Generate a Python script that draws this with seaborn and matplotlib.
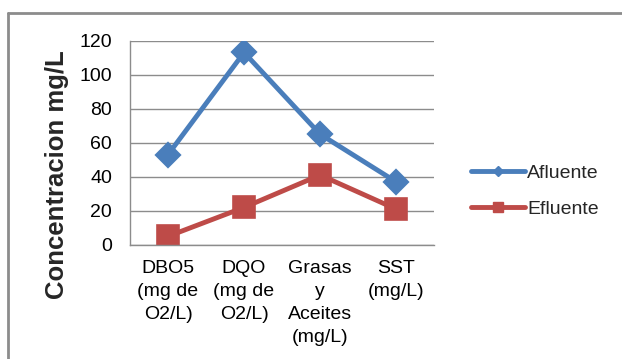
import pandas as pd
import matplotlib.pyplot as plt
import seaborn as sns
from matplotlib.lines import Line2D

# data
categories = ['DBO5\n(mg de\nO2/L)', 'DQO\n(mg de\nO2/L)', 'Grasas\ny\nAceites\n(mg/L)', 'SST\n(mg/L)']
afluente = [53, 113, 65, 37]
efluente = [5, 22, 41, 21]
series_names = ['Afluente', 'Efluente']
colors = ['#4a7ebb', '#be4b48']

df = pd.DataFrame({
    'cat': categories * 2,
    'valor': afluente + efluente,
    'serie': [series_names[0]] * 4 + [series_names[1]] * 4,
})

sns.set_theme(style="white")
plt.rcParams['font.family'] = ['Liberation Sans', 'DejaVu Sans']

fig = plt.figure(figsize=(6.22, 3.59), dpi=100)
ax = fig.add_axes([0.209, 0.318, 0.489, 0.569])

sns.pointplot(data=df, x='cat', y='valor', hue='serie', palette=colors,
              markers=['D', 's'], markersize=11, linewidth=3.5,
              ax=ax, legend=False)
# square marker is bigger than the diamond in the original
for ln in ax.lines:
    if ln.get_marker() == 's':
        ln.set_markersize(15)

ax.set_ylim(0, 120)
ax.set_yticks(range(0, 121, 20))
ax.set_xlim(-0.5, 3.5)
ax.yaxis.grid(True, color='#8c8c8c', linewidth=1)
ax.set_axisbelow(True)
for s in ['top', 'right']:
    ax.spines[s].set_visible(False)
for s in ['left', 'bottom']:
    ax.spines[s].set_color('#8c8c8c')
    ax.spines[s].set_linewidth(1)
ax.tick_params(axis='both', labelsize=14, length=0, colors='black')
ax.tick_params(axis='y', pad=13)
ax.tick_params(axis='x', pad=11)
for t in ax.get_xticklabels():
    t.set_linespacing(1.45)
ax.set_xlabel('')
ax.set_ylabel('Concentracion mg/L', fontsize=18.5, fontweight='bold')
ax.yaxis.set_label_coords(-0.2, 0.342)

handles = [Line2D([], [], color=colors[0], marker='D', markersize=5, linewidth=3.5),
           Line2D([], [], color=colors[1], marker='s', markersize=7, linewidth=3.5)]
fig.legend(handles, series_names, loc='center left', bbox_to_anchor=(0.729, 0.468),
           frameon=False, fontsize=14, handlelength=2.8, handletextpad=0.1,
           labelspacing=0.95)

# outer frame (top and left edges visible)
fig.add_artist(Line2D([0.013, 1.0], [0.964, 0.964], color='#8c8c8c', linewidth=2))
fig.add_artist(Line2D([0.013, 0.013], [0.0, 0.964], color='#8c8c8c', linewidth=2))

plt.savefig('out.png', dpi=100)
